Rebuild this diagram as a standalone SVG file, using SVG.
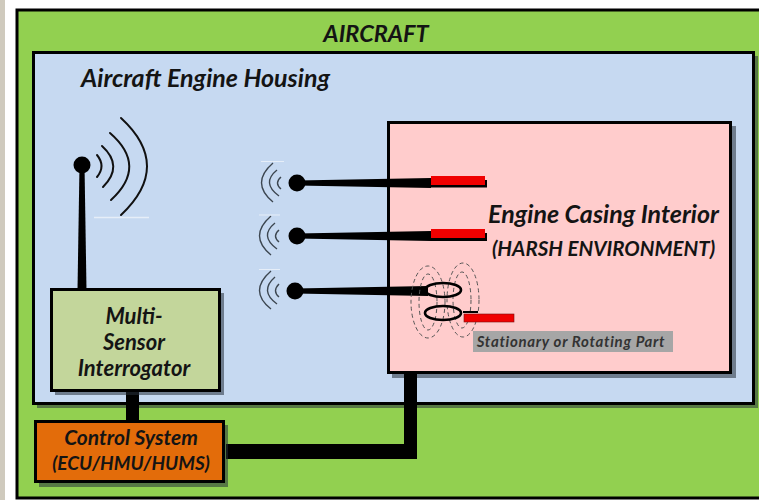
<svg xmlns="http://www.w3.org/2000/svg" width="759" height="500" viewBox="0 0 759 500">
<style>
text{font-family:"Lato","Open Sans","Liberation Sans",sans-serif;font-weight:700;font-style:italic;fill:#141414;text-anchor:middle}
.box{stroke:#000;stroke-width:3}
.sh{fill:#26303a;opacity:.55}
.arc{fill:none;stroke:#111;stroke-width:2;stroke-linecap:round}
.wave{fill:none;stroke:#3c4650;stroke-width:1.4}
.dash{fill:none;stroke:#555;stroke-width:1;stroke-dasharray:4 3}
.ring{fill:none;stroke:#000;stroke-width:2.6}
.wire{fill:#000}
</style>
<rect width="759" height="500" fill="#fff"/>
<rect x="0" y="0" width="5" height="500" fill="#cfcabd"/>
<g id="aircraft">
<rect class="box" x="17" y="10" width="745" height="488" fill="#92d050"/>
<text x="376" y="42" font-size="23.500">AIRCRAFT</text>
</g>
<g id="housing">
<rect class="sh" x="37" y="56" width="721" height="352"/>
<rect class="box" x="33.500" y="52.500" width="720" height="351" fill="#c6d9f1"/>
<text x="205.500" y="87" font-size="25">Aircraft Engine Housing</text>
</g>
<g id="casing">
<rect class="sh" x="392" y="126" width="344" height="252"/>
<rect class="box" x="388.500" y="122.500" width="342" height="250" fill="#ffcccc"/>
<text x="603.500" y="223" font-size="25">Engine Casing Interior</text>
<text x="603.500" y="256" font-size="20.500">(HARSH ENVIRONMENT)</text>
</g>
<g id="connectors">
<path class="wire" d="M297 180.500L431 178V188L297 185.500Z"/>
<path class="wire" d="M297 233.500L431 231V241L297 238.500Z"/>
<path class="wire" d="M295 288.500L428 286V296L295 293.500Z"/>
<path class="wire" d="M79.500 165H84.500L86.500 290H77.500Z"/>
<rect class="wire" x="431" y="180" width="56" height="7.500"/>
<rect class="wire" x="431" y="233" width="56" height="8"/>
<rect class="wire" x="126" y="390" width="13" height="32"/>
<path class="wire" d="M404 372H417V459H226V444H404Z"/>
<rect class="wire" x="463" y="311" width="15" height="2"/>
</g>
<g id="antenna">
<circle cx="82" cy="165" r="8.500" fill="#000"/>
<path class="arc" d="M97 155Q106 166 97 177"/>
<path class="arc" d="M102 146Q124 166 103 187"/>
<path class="arc" d="M110 133Q148 166 111 200"/>
<path class="arc" d="M121 118Q173 166 121 215"/>
<path d="M94 217.500H149" stroke="#e6eef8" stroke-width="1.500"/>
</g>
<g id="sensor-1">
<circle cx="297" cy="183" r="8.500" fill="#000"/>
<path class="wave" d="M273 163Q250 183 273 202"/>
<path class="wave" d="M277 170Q261 183 279 196"/>
<path class="wave" d="M281 177Q274 183 281 189"/>
<path d="M261 161.500H284" stroke="#e6eef8"/>
<rect x="431" y="176" width="54" height="9" fill="#f00000"/>
</g>
<g id="sensor-2">
<circle cx="297" cy="236" r="8.500" fill="#000"/>
<path class="wave" d="M271 216Q248 236 271 255"/>
<path class="wave" d="M275 223Q259 236 277 249"/>
<path class="wave" d="M279 230Q272 236 279 242"/>
<path d="M259 215H280" stroke="#e6eef8"/>
<rect x="431" y="229" width="54" height="9" fill="#f00000"/>
</g>
<g id="sensor-3">
<circle cx="295" cy="291" r="8.500" fill="#000"/>
<path class="wave" d="M271 271Q248 291 271 309"/>
<path class="wave" d="M275 277Q259 291 277 304"/>
<path class="wave" d="M279 284Q272 291 279 297"/>
<path d="M259 269.500H280" stroke="#e6eef8"/>
<ellipse class="dash" cx="428" cy="302" rx="17" ry="36"/>
<ellipse class="dash" cx="428" cy="302" rx="9" ry="28"/>
<ellipse class="dash" cx="463" cy="300" rx="16" ry="37"/>
<ellipse class="dash" cx="462" cy="300" rx="9" ry="28"/>
<ellipse class="ring" cx="443" cy="290" rx="18" ry="7"/>
<ellipse class="ring" cx="443" cy="313" rx="18" ry="7"/>
<rect x="464" y="314" width="50" height="8" fill="#f00000" stroke="#7a1010" stroke-width=".6"/>
</g>
<g id="part-label">
<rect x="473" y="331" width="200" height="21" fill="#a6a6a6"/>
<text x="571" y="346.500" font-size="15" letter-spacing=".7" style="fill:#333">Stationary or Rotating Part</text>
</g>
<g id="interrogator">
<rect class="sh" x="55" y="293" width="169" height="102"/>
<rect class="box" x="51.500" y="289.500" width="168" height="101" fill="#c3d69b"/>
<text x="134" y="324" font-size="22">Multi-</text>
<text x="134" y="350" font-size="22">Sensor</text>
<text x="134" y="376" font-size="22">Interrogator</text>
</g>
<g id="control">
<rect class="sh" x="39" y="425" width="189" height="62"/>
<rect class="box" x="35.500" y="421.500" width="188" height="60" fill="#e36c0a"/>
<text x="131" y="445" font-size="21">Control System</text>
<text x="131" y="470" font-size="19">(ECU/HMU/HUMS)</text>
</g>
</svg>
